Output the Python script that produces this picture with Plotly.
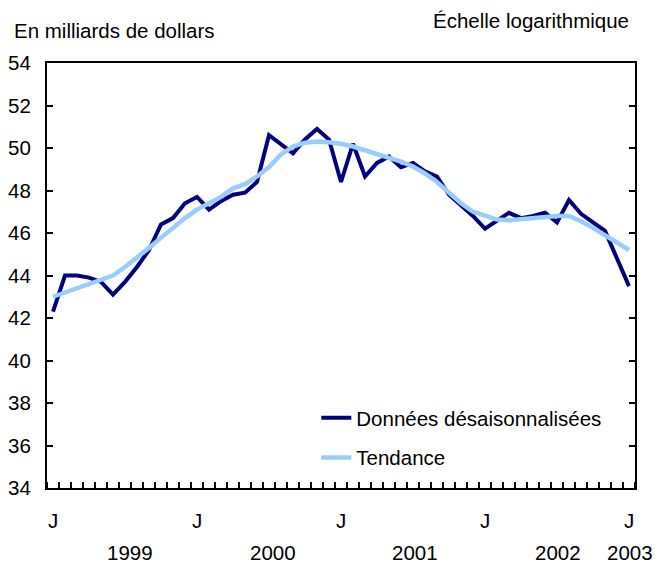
import plotly.graph_objects as go

months = list(range(49))  # Jan 1999 .. Jan 2003
donnees = [42.3, 44.0, 44.0, 43.9, 43.7, 43.1, 43.7, 44.4, 45.2, 46.4,
           46.7, 47.4, 47.7, 47.1, 47.5, 47.8, 47.9, 48.4, 50.6, 50.2,
           49.75, 50.4, 50.9, 50.4, 48.4, 50.2, 48.66, 49.3, 49.6, 49.1,
           49.3, 48.9, 48.66, 47.8, 47.3, 46.8, 46.2, 46.55, 46.95, 46.7,
           46.8, 46.95, 46.5, 47.55, 46.9, 46.5, 46.1, 44.8, 43.5]
tendance = [43.0, 43.2, 43.4, 43.6, 43.8, 44.0, 44.4, 44.83, 45.3, 45.77,
            46.24, 46.7, 47.1, 47.4, 47.7, 48.1, 48.3, 48.66, 49.1, 49.7,
            50.07, 50.25, 50.3, 50.27, 50.2, 50.07, 49.9, 49.75, 49.55, 49.36,
            49.13, 48.8, 48.4, 47.9, 47.4, 47.0, 46.8, 46.63, 46.6, 46.66,
            46.7, 46.75, 46.8, 46.8, 46.55, 46.24, 45.9, 45.6, 45.2]
x_tick_vals = [0, 12, 24, 36, 48]
x_tick_text = ["J", "J", "J", "J", "J"]
years = ["1999", "2000", "2001", "2002", "2003"]
year_pos = [6.4, 18.3, 30.2, 42.1, 48.1]
y_ticks = list(range(34, 55, 2))

FONT = "Liberation Sans, Arial, sans-serif"
FS = 20.5

fig = go.Figure()
fig.add_trace(go.Scatter(x=months, y=donnees, mode="lines",
                         name="Données désaisonnalisées", legendgroup="a",
                         line=dict(color="#000080", width=4)))
fig.add_trace(go.Scatter(x=months, y=tendance, mode="lines",
                         name="Tendance", legendgroup="b",
                         line=dict(color="#99CCFF", width=4.5)))

ann = []
for yr, xp in zip(years, year_pos):
    ann.append(dict(x=xp, y=-0.152, xref="x", yref="paper", text=yr, xanchor="center",
                    yanchor="middle", showarrow=False,
                    font=dict(size=FS, color="black", family=FONT)))
ann.append(dict(x=-0.0595, y=1.0776, xref="paper", yref="paper", text="En milliards de dollars",
                xanchor="left", yanchor="middle", showarrow=False,
                font=dict(size=FS, color="black", family=FONT)))
ann.append(dict(x=0.993, y=1.099, xref="paper", yref="paper", text="Échelle logarithmique",
                xanchor="right", yanchor="middle", showarrow=False,
                font=dict(size=FS, color="black", family=FONT)))

fig.update_layout(
    width=658, height=567,
    margin=dict(l=47, r=23, t=63, b=79),
    paper_bgcolor="white", plot_bgcolor="white",
    font=dict(family=FONT, size=FS, color="black"),
    showlegend=True,
    legend=dict(x=0.458, y=0.212, xanchor="left", yanchor="top",
                bgcolor="rgba(0,0,0,0)", tracegroupgap=10,
                font=dict(size=FS, family=FONT, color="black")),
    annotations=ann,
    xaxis=dict(range=[-0.5, 48.5], tickvals=x_tick_vals, ticktext=x_tick_text,
               ticks="", showgrid=False, zeroline=False, automargin=False,
               showline=True, linecolor="black", linewidth=2, mirror=True,
               ticklabelstandoff=13,
               minor=dict(tick0=-0.5, dtick=1, ticks="inside", ticklen=6,
                          tickcolor="black", tickwidth=1.5, showgrid=False),
               tickfont=dict(size=FS, family=FONT, color="black")),
    yaxis=dict(range=[34, 54], tickvals=y_ticks, ticks="inside", ticklen=6,
               tickwidth=1.5, tickcolor="black", showgrid=False, zeroline=False,
               automargin=False,
               showline=True, linecolor="black", linewidth=2, mirror="ticks",
               ticklabelstandoff=10,
               tickfont=dict(size=FS, family=FONT, color="black")),
)

fig.write_html("out.html", config={"displayModeBar": False},
               post_script="document.body.style.margin='0px';document.body.style.overflow='hidden';")
